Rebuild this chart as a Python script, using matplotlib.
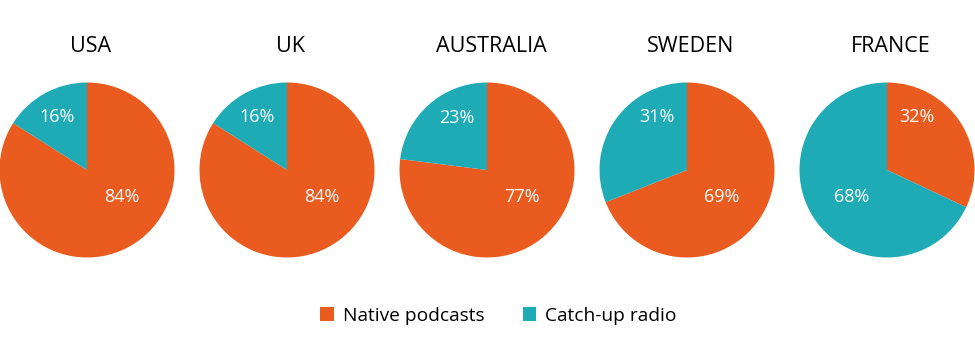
import matplotlib.pyplot as plt
from matplotlib.patches import Patch

countries = ['USA', 'UK', 'AUSTRALIA', 'SWEDEN', 'FRANCE']
native = [84, 84, 77, 69, 32]
catchup = [16, 16, 23, 31, 68]
series_names = ['Native podcasts', 'Catch-up radio']
colors = ['#E95B1E', '#1FABB5']

plt.rcParams['font.family'] = ['Open Sans', 'DejaVu Sans']

fig = plt.figure(figsize=(9.75, 3.38), dpi=100)
W, H = 975, 338
r = 87.5

for i, name in enumerate(countries):
    cx = 87 + 200 * i
    ax = fig.add_axes([(cx - r) / W, (H - 170 - r) / H, 2 * r / W, 2 * r / H])
    vals = [native[i], catchup[i]]
    ax.pie(vals, colors=colors, startangle=90, counterclock=False,
           wedgeprops={'linewidth': 0})
    ax.set_xlim(-1, 1)
    ax.set_ylim(-1, 1)
    ax.set_aspect('equal')
    ax.axis('off')
    # larger share goes lower, smaller share upper; side follows the slice
    big = 0 if vals[0] >= vals[1] else 1
    small = 1 - big
    side_small = -1 if small == 1 else 1
    ax.text(side_small * 0.34, 0.6, f'{vals[small]}%', color='white',
            fontsize=13, ha='center', va='center')
    ax.text(-side_small * 0.4, -0.31, f'{vals[big]}%', color='white',
            fontsize=13, ha='center', va='center')
    fig.text((cx + 4) / W, 1 - 47 / H, name, fontsize=15.5, ha='center', va='center')

handles = [Patch(facecolor=c, edgecolor='none', label=n)
           for c, n in zip(colors, series_names)]
fig.legend(handles=handles, loc='center', bbox_to_anchor=(0.511, 0.065), ncol=2,
           frameon=False, fontsize=13.8, handlelength=0.72, handleheight=0.72,
           handletextpad=0.45, columnspacing=2.0)

fig.savefig('out.png', dpi=100, facecolor='white')
